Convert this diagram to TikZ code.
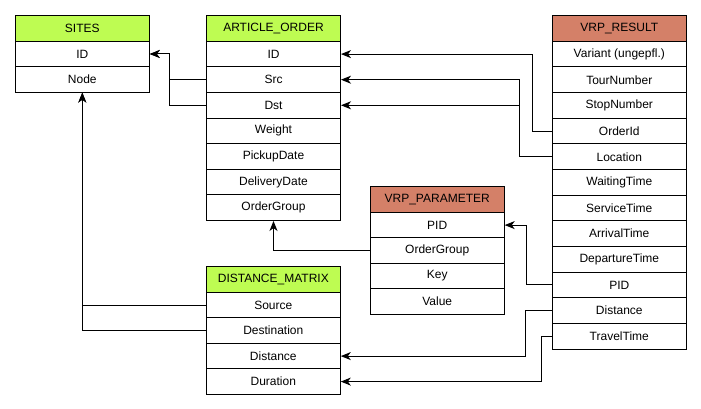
\documentclass[tikz,border=0pt]{standalone}
\usepackage{fontspec}
\setmainfont{Liberation Sans}
\usetikzlibrary{arrows.meta}
\definecolor{hdrgreen}{RGB}{190,252,82}
\definecolor{hdrsalmon}{RGB}{212,128,104}
\tikzset{
  cell/.style={draw=black, line width=0.75pt, fill=white, minimum width=100.5pt, minimum height=19.2pt, inner sep=0pt, font=\fontsize{9}{10}\selectfont, anchor=center},
  greenhdr/.style={cell, fill=hdrgreen, minimum height=19.5pt},
  salmonhdr/.style={cell, fill=hdrsalmon, minimum height=19.5pt},
  conn/.style={draw=black, line width=0.75pt, -{Stealth[length=7.5pt, width=6pt, inset=2.2pt]}},
}
\begin{document}
\begin{tikzpicture}[x=0.75pt, y=-0.75pt]
\useasboundingbox (0,0) rectangle (701,409);
% SITES
\node[greenhdr] (sitesh) at (82.3,28.2) {SITES};
\foreach \t [count=\i] in {ID,Node}
  \node[cell] (sites\i) at (82.3,{41.2+12.8+(\i-1)*25.3}) {\t};
% ARTICLE_ORDER
\node[greenhdr] (aoh) at (273.5,28.3) {ARTICLE\_ORDER};
\foreach \t [count=\i] in {ID,Src,Dst,Weight,PickupDate,DeliveryDate,OrderGroup}
  \node[cell] (ao\i) at (273.5,{41.3+12.8+(\i-1)*25.6}) {\t};
% VRP_RESULT
\node[salmonhdr] (vrh) at (619.3,28.3) {VRP\_RESULT};
\foreach \t [count=\i] in {{Variant (ungepfl.)},TourNumber,StopNumber,OrderId,Location,WaitingTime,ServiceTime,ArrivalTime,DepartureTime,PID,Distance,TravelTime}
  \node[cell] (vr\i) at (619.3,{41.3+12.83+(\i-1)*25.65}) {\t};
% VRP_PARAMETER
\node[salmonhdr] (vph) at (437.2,199.8) {VRP\_PARAMETER};
\foreach \t [count=\i] in {PID,OrderGroup,Key,Value}
  \node[cell] (vp\i) at (437.2,{212.3+12.8+(\i-1)*25.5}) {\t};
% DISTANCE_MATRIX
\node[greenhdr] (dmh) at (273.3,280) {DISTANCE\_MATRIX};
\foreach \t [count=\i] in {Source,Destination,Distance,Duration}
  \node[cell] (dm\i) at (273.3,{292.3+12.8+(\i-1)*25.5}) {\t};
% connectors
\draw[conn] (ao2.west) -- ++(-37,0) |- (sites1.east);
\draw[conn] (ao3.west) -- ++(-37,0) |- (sites1.east);
\draw[conn] (vr4.west) -- ++(-19,0) |- (ao1.east);
\draw[conn] (vr5.west) -- ++(-32,0) |- (ao2.east);
\draw[conn] (vr5.west) -- ++(-32,0) |- (ao3.east);
\draw[conn] (vp2.west) -| (ao7.south);
\draw[conn] (vr10.west) -- ++(-25.5,0) |- (vp1.east);
\draw[conn] (vr11.west) -- ++(-26.4,0) |- (dm3.east);
\draw[conn] (vr12.west) -- ++(-10.3,0) |- (dm4.east);
\draw[conn] (dm1.west) -| (sites2.south);
\draw[conn] (dm2.west) -| (sites2.south);
\end{tikzpicture}
\end{document}
